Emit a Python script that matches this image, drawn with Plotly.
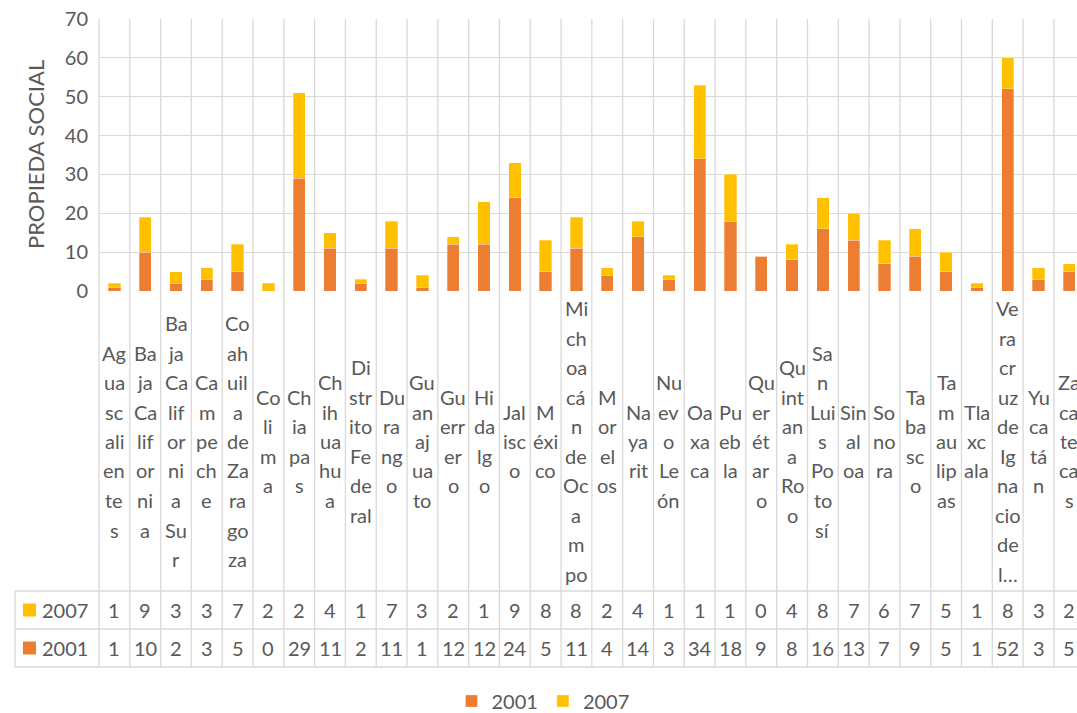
import plotly.graph_objects as go

# datos
estados = [
    "Ag|ua|sc|ali|en|te|s", "Ba|ja|Ca|lif|or|ni|a", "Ba|ja|Ca|lif|or|ni|a|Su|r",
    "Ca|m|pe|ch|e", "Co|ah|uil|a|de|Za|ra|go|za", "Co|li|m|a", "Ch|ia|pa|s",
    "Ch|ih|ua|hu|a", "Di|str|ito|Fe|de|ral", "Du|ra|ng|o", "Gu|an|aj|ua|to",
    "Gu|err|er|o", "Hi|da|lg|o", "Jal|isc|o", "M|éxi|co",
    "Mi|ch|oa|cá|n|de|Oc|a|m|po", "M|or|el|os", "Na|ya|rit", "Nu|ev|o|Le|ón",
    "Oa|xa|ca", "Pu|eb|la", "Qu|er|ét|ar|o", "Qu|int|an|a|Ro|o",
    "Sa|n|Lui|s|Po|to|sí", "Sin|al|oa", "So|no|ra", "Ta|ba|sc|o",
    "Ta|m|au|lip|as", "Tla|xc|ala", "Ve|ra|cr|uz|de|Ig|na|cio|de|l…",
    "Yu|ca|tá|n", "Za|ca|te|ca|s",
]
v2001 = [1, 10, 2, 3, 5, 0, 29, 11, 2, 11, 1, 12, 12, 24, 5, 11, 4, 14, 3, 34,
         18, 9, 8, 16, 13, 7, 9, 5, 1, 52, 3, 5]
v2007 = [1, 9, 3, 3, 7, 2, 22, 4, 1, 7, 3, 2, 11, 9, 8, 8, 2, 4, 1, 19,
         12, 0, 4, 8, 7, 6, 7, 5, 1, 8, 3, 2]
# texto que muestra la tabla de datos (celdas estrechas recortan el valor)
tabla_2007 = ["1", "9", "3", "3", "7", "2", "2", "4", "1", "7", "3", "2", "1",
              "9", "8", "8", "2", "4", "1", "1", "1", "0", "4", "8", "7", "6",
              "7", "5", "1", "8", "3", "2"]
tabla_2001 = [str(v) for v in v2001]

NARANJA = "#ED7D31"
AMARILLO = "#FFC000"
GRIS = "#595959"
REJILLA = "#d9d9d9"
FUENTE = "Lato"
TAM = 20

W, H = 1077, 713
L, T, B = 99, 18, 291  # area de trazado en pixeles
YMAX = 70 * (B - T) / (B - 19)  # 70 cae en y=19


def py(y):
    return (B - y) / (B - T)


def px(x):
    return (x - L) / (W - L)


idx = list(range(len(estados)))

fig = go.Figure()
fig.add_bar(x=idx, y=v2001, name="2001", marker_color=NARANJA,
            marker_line=dict(color="rgba(255,255,255,0.5)", width=0.6))
fig.add_bar(x=idx, y=v2007, name="2007", marker_color=AMARILLO,
            marker_line=dict(color="rgba(255,255,255,0.5)", width=0.6))

shapes = []
annotations = []
lin = dict(color=REJILLA, width=1.3)
txt = dict(family=FUENTE, size=TAM, color=GRIS)

# lineas verticales de categoria (grafico + etiquetas + tabla)
shapes.append(dict(type="line", xref="paper", yref="paper", x0=0, x1=0,
                   y0=py(19), y1=py(667), line=lin))
for i in idx:
    shapes.append(dict(type="line", xref="x", yref="paper", x0=i + 0.5,
                       x1=i + 0.5, y0=py(19), y1=py(667), line=lin))

# lineas horizontales de la tabla
for yy in (591, 629, 667):
    shapes.append(dict(type="line", xref="paper", yref="paper", x0=px(15),
                       x1=1, y0=py(yy), y1=py(yy), line=lin))
shapes.append(dict(type="line", xref="paper", yref="paper", x0=px(15),
                   x1=px(15), y0=py(591), y1=py(667), line=lin))

# etiquetas de categoria, linea por linea, centradas verticalmente
paso = 29.5
centro = 441
for i, et in zip(idx, estados):
    partes = et.split("|")
    n = len(partes)
    for k, p in enumerate(partes):
        yy = centro + (k - (n - 1) / 2) * paso
        annotations.append(dict(x=i, xref="x", y=py(yy), yref="paper",
                                text=p, showarrow=False, xanchor="center",
                                yanchor="middle", font=txt))

# valores de la tabla
for i in idx:
    annotations.append(dict(x=i, xref="x", y=py(610), yref="paper",
                            text=tabla_2007[i], showarrow=False,
                            yanchor="middle", font=txt))
    annotations.append(dict(x=i, xref="x", y=py(648), yref="paper",
                            text=tabla_2001[i], showarrow=False,
                            yanchor="middle", font=txt))

# claves de la tabla
for nombre, color, yy in (("2007", AMARILLO, 610), ("2001", NARANJA, 648)):
    shapes.append(dict(type="rect", xref="paper", yref="paper", x0=px(23),
                       x1=px(36), y0=py(yy - 6.5), y1=py(yy + 6.5),
                       fillcolor=color, line=dict(width=0)))
    annotations.append(dict(x=px(65), xref="paper", y=py(yy), yref="paper",
                            text=nombre, showarrow=False, xanchor="center",
                            yanchor="middle", font=txt))

# titulo del eje y
annotations.append(dict(x=px(35), xref="paper", y=py(155), yref="paper",
                        text="PROPIEDA SOCIAL", textangle=-90, showarrow=False,
                        xanchor="center", yanchor="middle",
                        font=dict(family=FUENTE, size=22, color=GRIS)))

fig.update_layout(
    width=W, height=H, autosize=False,
    margin=dict(l=L, r=0, t=T, b=H - B, pad=0, autoexpand=False),
    paper_bgcolor="white", plot_bgcolor="white",
    barmode="stack", bargap=0.6,
    font=txt,
    shapes=shapes, annotations=annotations,
    legend=dict(orientation="h", traceorder="normal",
                x=543 / W, xref="container", xanchor="center",
                y=1 - 701 / H, yref="container", yanchor="middle",
                font=txt, itemwidth=30),
)
fig.update_xaxes(range=[-0.5, 31.25], showticklabels=False, showgrid=False,
                 zeroline=False, showline=False, automargin=False)
fig.update_yaxes(range=[0, YMAX], tickvals=[0, 10, 20, 30, 40, 50, 60, 70],
                 gridcolor=REJILLA, gridwidth=1.3,
                 zeroline=False, showline=False, ticks="", automargin=False,
                 ticklabelstandoff=10, tickfont=txt)

# sin margen en el body para que la figura ocupe la ventana entera
fig.write_html("out.html", config={"displayModeBar": False},
               post_script="document.body.style.margin='0';")
